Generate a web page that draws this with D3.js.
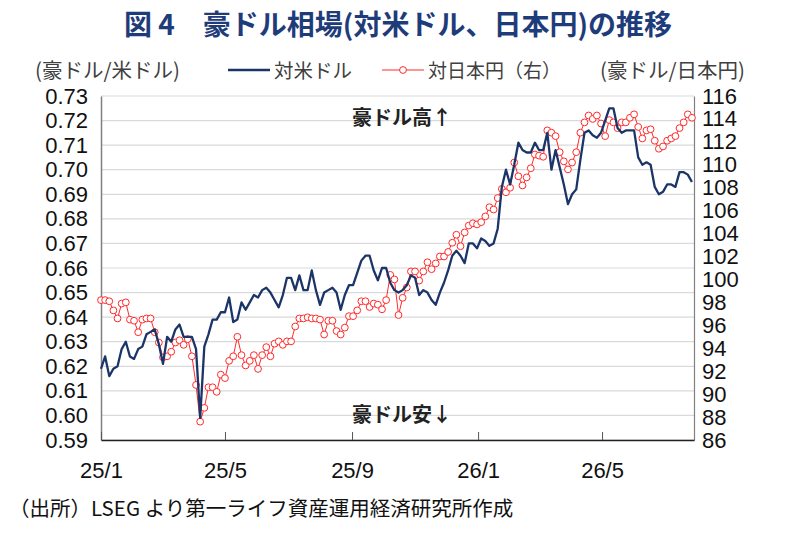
<!DOCTYPE html>
<html>
<head>
<meta charset="utf-8">
<script src="https://cdn.jsdelivr.net/npm/d3@7"></script>
<style>
  body { margin: 0; background: #fff; }
  svg { display: block; font-family: "Noto Sans CJK JP", "Noto Sans", sans-serif; }
  .tick text { font-family: "Liberation Sans", "Noto Sans", sans-serif; }
</style>
</head>
<body>
<div id="chart"></div>
<script>
// series sampled every 4 days from 2025/1/1
const startDate = "2025-01-01";
const endDate = "2026-07-29";
const stepDays = 4;

const audUsd = [
  0.619, 0.624, 0.616, 0.619, 0.620, 0.627, 0.630, 0.624, 0.623, 0.627,
  0.628, 0.633, 0.634, 0.635, 0.629, 0.621, 0.632, 0.630, 0.635, 0.637,
  0.632, 0.632, 0.632, 0.627, 0.599, 0.628, 0.633, 0.639, 0.639, 0.642,
  0.642, 0.648, 0.638, 0.639, 0.646, 0.643, 0.646, 0.649, 0.648, 0.651,
  0.652, 0.650, 0.647, 0.644, 0.649, 0.656, 0.656, 0.651, 0.657, 0.651,
  0.651, 0.659, 0.651, 0.645, 0.650, 0.651, 0.652, 0.650, 0.643, 0.649,
  0.653, 0.653, 0.658, 0.663, 0.665, 0.665, 0.659, 0.655, 0.660, 0.660,
  0.654, 0.651, 0.650, 0.651, 0.653, 0.657, 0.656, 0.649, 0.651, 0.650,
  0.647, 0.645, 0.650, 0.654, 0.659, 0.665, 0.667, 0.665, 0.662, 0.670,
  0.670, 0.668, 0.672, 0.671, 0.669, 0.670, 0.676, 0.693, 0.700, 0.694,
  0.702, 0.711, 0.708, 0.707, 0.707, 0.711, 0.708, 0.708, 0.715, 0.700,
  0.708, 0.701, 0.694, 0.686, 0.690, 0.692, 0.704, 0.715, 0.716, 0.714,
  0.713, 0.715, 0.720, 0.725, 0.725, 0.717, 0.715, 0.716, 0.716, 0.716,
  0.705, 0.702, 0.703, 0.702, 0.693, 0.690, 0.691, 0.694, 0.694, 0.693,
  0.699, 0.699, 0.698, 0.695
];

const audJpy = [
  98.2, 98.2, 98.1, 97.3, 96.6, 97.9, 98.0, 96.5, 96.4, 95.4,
  96.5, 96.6, 96.6, 95.4, 94.5, 93.2, 93.3, 93.7, 94.5, 94.7,
  94.3, 94.8, 93.3, 90.8, 87.6, 88.8, 90.6, 90.6, 90.2, 91.7,
  91.4, 92.9, 93.3, 95.0, 93.4, 92.5, 92.9, 93.4, 92.2, 93.4,
  94.1, 93.3, 94.4, 94.6, 94.3, 94.6, 94.6, 95.9, 96.6, 96.6,
  96.7, 96.6, 96.6, 96.5, 95.2, 96.4, 96.4, 95.5, 95.2, 95.8,
  96.8, 96.8, 97.3, 98.1, 98.1, 97.6, 97.9, 97.8, 97.4, 98.2,
  100.4, 100.0, 96.9, 98.4, 99.3, 100.7, 100.7, 99.9, 100.7, 101.5,
  100.9, 101.4, 102.0, 102.0, 102.4, 103.2, 103.9, 102.9, 104.1, 104.7,
  104.9, 104.8, 105.0, 105.5, 106.3, 106.1, 107.1, 107.9, 107.6, 108.0,
  110.2, 109.0, 108.2, 108.9, 109.7, 110.9, 110.8, 110.7, 113.0, 112.8,
  112.5, 111.1, 110.3, 109.6, 110.2, 111.1, 112.8, 113.7, 114.3, 114.0,
  114.3, 113.6, 112.5, 113.9, 113.7, 113.2, 113.7, 113.7, 114.1, 114.4,
  113.3, 112.3, 113.0, 113.1, 112.1, 111.4, 111.6, 112.1, 112.3, 112.5,
  113.2, 113.7, 114.4, 114.1
];

const xTickDates = ["2025-01-01", "2025-05-01", "2025-09-01", "2026-01-01", "2026-05-01"];
const xTickLabels = ["25/1", "25/5", "25/9", "26/1", "26/5"];

const width = 797, height = 538;
const margin = { top: 96, right: 103, bottom: 98, left: 101 };
const innerW = width - margin.left - margin.right;
const innerH = height - margin.top - margin.bottom;

const parse = d3.timeParse("%Y-%m-%d");
const dates = d3.timeDay.range(parse(startDate), parse(endDate), stepDays);

const navy = "#1b3568";
const red = "#ff2a2a";

const svg = d3.select("#chart").append("svg")
  .attr("width", width)
  .attr("height", height);

// title
svg.append("text")
  .attr("x", 398)
  .attr("y", 35)
  .attr("text-anchor", "middle")
  .style("font-size", "28px")
  .style("font-weight", "bold")
  .style("fill", "#1f3c7a")
  .text("図 4　豪ドル相場(対米ドル、日本円)の推移");

const x = d3.scaleTime()
  .domain([parse(startDate), parse(endDate)])
  .range([0, innerW]);

const yL = d3.scaleLinear().domain([0.59, 0.73]).range([innerH, 0]);
const yR = d3.scaleLinear().domain([86, 116]).range([innerH, 0]);

const g = svg.append("g")
  .attr("transform", "translate(" + margin.left + "," + margin.top + ")");

// grid
g.append("g")
  .selectAll("line")
  .data(yL.ticks(14))
  .enter().append("line")
  .attr("x1", 0)
  .attr("x2", innerW)
  .attr("y1", d => yL(d))
  .attr("y2", d => yL(d))
  .attr("stroke", "#d9d9d9")
  .attr("stroke-width", 1.2);

// left axis
const leftAxis = g.append("g")
  .call(d3.axisLeft(yL).ticks(14).tickFormat(d3.format(".2f")).tickSize(0).tickPadding(13));
leftAxis.select(".domain").attr("stroke", "#808080").attr("stroke-width", 1.5);
leftAxis.selectAll("text").style("font-size", "22px").style("fill", "#111");

// right axis
const rightAxis = g.append("g")
  .attr("transform", "translate(" + innerW + ",0)")
  .call(d3.axisRight(yR).ticks(15).tickSize(0).tickPadding(8));
rightAxis.select(".domain").attr("stroke", "#808080").attr("stroke-width", 1.2);
rightAxis.selectAll("text").style("font-size", "22px").style("fill", "#111");

// bottom axis
const bottomAxis = g.append("g")
  .attr("transform", "translate(0," + innerH + ")")
  .call(d3.axisBottom(x)
    .tickValues(xTickDates.map(parse))
    .tickFormat((d, i) => xTickLabels[i])
    .tickSizeInner(-8)
    .tickSizeOuter(0)
    .tickPadding(22));
bottomAxis.select(".domain").attr("stroke", "#222").attr("stroke-width", 1.3);
bottomAxis.selectAll(".tick line").attr("stroke", "#555");
bottomAxis.selectAll("text").style("font-size", "22px").style("fill", "#111");

// AUD/JPY (right axis) with circle markers
const jpyLine = d3.line()
  .x((d, i) => x(dates[i]))
  .y(d => yR(d));

g.append("path")
  .datum(audJpy)
  .attr("fill", "none")
  .attr("stroke", red)
  .attr("stroke-width", 1)
  .attr("d", jpyLine);

g.append("g")
  .selectAll("circle")
  .data(audJpy)
  .enter().append("circle")
  .attr("cx", (d, i) => x(dates[i]))
  .attr("cy", d => yR(d))
  .attr("r", 3.4)
  .attr("fill", "#fff")
  .attr("stroke", red)
  .attr("stroke-width", 1);

// AUD/USD
const usdLine = d3.line()
  .x((d, i) => x(dates[i]))
  .y(d => yL(d));

g.append("path")
  .datum(audUsd)
  .attr("fill", "none")
  .attr("stroke", navy)
  .attr("stroke-width", 2.3)
  .attr("stroke-linejoin", "round")
  .attr("d", usdLine);

// annotations
g.append("text")
  .attr("x", 251)
  .attr("y", 29)
  .style("font-size", "20px")
  .style("font-weight", "bold")
  .style("fill", "#222")
  .text("豪ドル高↑");

g.append("text")
  .attr("x", 251)
  .attr("y", 326)
  .style("font-size", "20px")
  .style("font-weight", "bold")
  .style("fill", "#222")
  .text("豪ドル安↓");

// units
svg.append("text")
  .attr("x", 35)
  .attr("y", 78)
  .style("font-size", "20.5px")
  .style("fill", "#404040")
  .text("(豪ドル/米ドル)");

svg.append("text")
  .attr("x", 600)
  .attr("y", 78)
  .style("font-size", "20.5px")
  .style("fill", "#404040")
  .text("(豪ドル/日本円)");

// legend
const legend = svg.append("g").attr("transform", "translate(228,70)");
legend.append("line")
  .attr("x1", 0).attr("x2", 42)
  .attr("stroke", navy).attr("stroke-width", 2.3);
legend.append("text")
  .attr("x", 46).attr("y", 7.5)
  .style("font-size", "19.5px")
  .style("fill", "#404040")
  .text("対米ドル");

legend.append("line")
  .attr("x1", 154).attr("x2", 196)
  .attr("stroke", red).attr("stroke-width", 1);
legend.append("circle")
  .attr("cx", 175).attr("r", 3.4)
  .attr("fill", "#fff").attr("stroke", red);
legend.append("text")
  .attr("x", 200).attr("y", 7.5)
  .style("font-size", "19px")
  .style("fill", "#404040")
  .text("対日本円（右）");

// source
svg.append("text")
  .attr("x", 9)
  .attr("y", 516)
  .style("font-size", "20.5px")
  .style("fill", "#111")
  .text("（出所）LSEG より第一ライフ資産運用経済研究所作成");
</script>
</body>
</html>
